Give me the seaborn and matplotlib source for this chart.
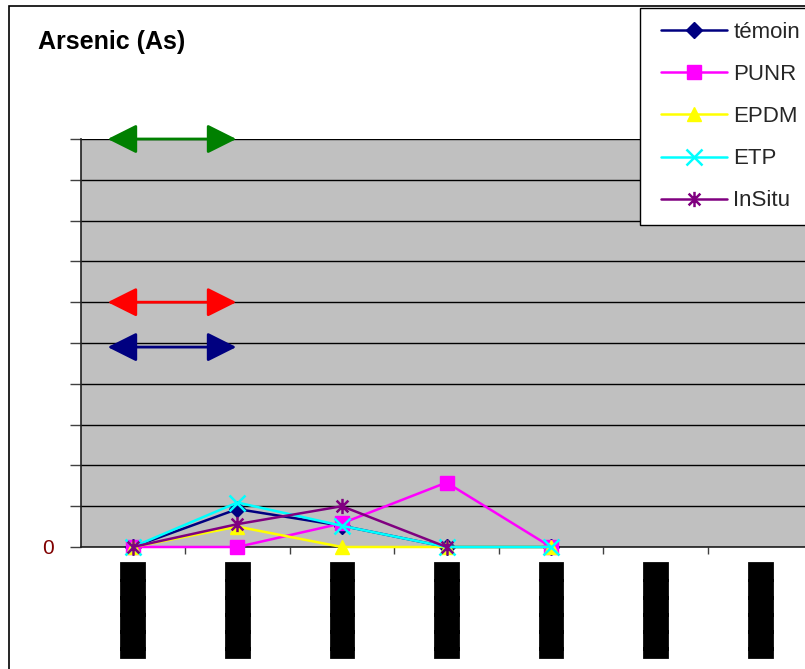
import matplotlib
matplotlib.use("Agg")
import matplotlib.pyplot as plt
import matplotlib.patches as mpatches
import matplotlib.patheffects as pe
from matplotlib.path import Path
import numpy as np
import pandas as pd
import seaborn as sns

# ---- data -------------------------------------------------------------
categories = ["▐" + "█" * 5] * 7    # sample labels (rotated)
series_names = ["témoin", "PUNR", "EPDM", "ETP", "InSitu"]
temoin = [0, 0.93, 0.52, 0, 0, np.nan, np.nan]
punr   = [0, 0, 0.58, 1.58, 0, np.nan, np.nan]
epdm   = [0, 0.50, 0, 0, 0, np.nan, np.nan]
etp    = [0, 1.09, 0.52, 0, 0, np.nan, np.nan]
insitu = [0, 0.56, 1.0, 0, np.nan, np.nan, np.nan]
values = [temoin, punr, epdm, etp, insitu]

# reference thresholds drawn as double arrows
limit_values = [10.0, 6.0, 4.9]
limit_colors = ["#008000", "#FF0000", "#000080"]
limit_span = (-0.24, 0.99)

y_ticks = list(range(0, 11))
y_ticklabels = ["0"] + [""] * 10

# ---- styling ----------------------------------------------------------
sns.set_theme(style="white")
plt.rcParams["font.family"] = ["Liberation Sans", "DejaVu Sans"]

colors = ["#000080", "#FF00FF", "#FFFF00", "#00FFFF", "#800080"]
star = Path([(-1, -1), (1, 1), (-1, 1), (1, -1), (0, -1.3), (0, 1.3)],
            [Path.MOVETO, Path.LINETO, Path.MOVETO, Path.LINETO,
             Path.MOVETO, Path.LINETO])
markers = ["D", "s", "^", "x", star]
msizes = [8.5, 10, 10.5, 11.5, 11]
medge = [1, 1, 1, 1.8, 1.8]

W, H = 805, 669
fig = plt.figure(figsize=(W / 100, H / 100), dpi=100)
fig.patch.set_facecolor("white")

left_px, right_px, top_px, bottom_px = 80.5, 812.5, 139, 547
ax = fig.add_axes([left_px / W, 1 - bottom_px / H,
                   (right_px - left_px) / W, (bottom_px - top_px) / H])
ax.set_facecolor("#C0C0C0")

x = np.arange(len(categories))
for name, vals, c, m, ms, me in zip(series_names, values, colors, markers,
                                    msizes, medge):
    df = pd.DataFrame({"x": x, "y": vals}).dropna()
    sns.lineplot(data=df, x="x", y="y", ax=ax, color=c, lw=1.8,
                 marker=m, markersize=ms, markeredgecolor=c,
                 markeredgewidth=me, markerfacecolor=c, label=name,
                 legend=False, clip_on=False, zorder=3)

# threshold arrows
for yv, c in zip(limit_values, limit_colors):
    ax.annotate("", xy=(limit_span[1], yv), xytext=(limit_span[0], yv),
                arrowprops=dict(arrowstyle="<|-|>,head_length=0.9,head_width=0.45",
                                color=c, lw=2, shrinkA=0, shrinkB=0,
                                mutation_scale=20),
                annotation_clip=False, zorder=4)

ax.set_xlim(-0.5, len(categories) - 0.5)
ax.set_ylim(0, 10)
ax.set_xlabel("")
ax.set_ylabel("")

ax.set_yticks(y_ticks)
ax.set_yticklabels(y_ticklabels)
ax.yaxis.grid(True, color="black", lw=1)
ax.xaxis.grid(False)
ax.tick_params(axis="y", which="major", direction="out", length=8, width=1,
               color="#404040", left=True, labelsize=15, labelcolor="#800000",
               pad=11)

ax.set_xticks(x)
ax.set_xticklabels(categories, rotation=90, fontsize=16, color="black",
                   family="DejaVu Sans", va="top", ha="center")
for t in ax.get_xticklabels():
    t.set_path_effects([pe.withStroke(linewidth=2, foreground="black",
                                      joinstyle="miter")])
ax.set_xticks(np.arange(0.5, len(categories) - 0.5, 1), minor=True)
ax.tick_params(axis="x", which="major", length=0, pad=11.5)
ax.tick_params(axis="x", which="minor", direction="out", length=5, width=1,
               color="#404040", bottom=True)

for s in ["top", "right"]:
    ax.spines[s].set_visible(False)
for s in ["left", "bottom"]:
    ax.spines[s].set_color("#202020")
    ax.spines[s].set_linewidth(1.2)

# title
fig.text(38 / W, 1 - 42 / H, "Arsenic (As)", fontsize=18, fontweight="bold",
         va="center", ha="left", color="black")

# legend box
fig.add_artist(mpatches.Rectangle((640 / W, 1 - 225 / H), 0.3, (225 - 8) / H,
                                  transform=fig.transFigure, facecolor="white",
                                  edgecolor="black", lw=1, zorder=5))
handles, labels = ax.get_legend_handles_labels()
leg = fig.legend(handles, labels, loc="upper left",
                 bbox_to_anchor=(661 / W, 1 - 22 / H),
                 prop={"family": ["Liberation Sans Narrow", "Liberation Sans"],
                       "size": 16},
                 frameon=False,
                 handlelength=2.95, handletextpad=0.3, labelspacing=0.95,
                 borderpad=0, borderaxespad=0)
leg.set_zorder(6)

# chart area border
fig.add_artist(mpatches.Rectangle((9 / W, -0.05), 1.2, 1 - 6 / H + 0.05,
                                  transform=fig.transFigure, fill=False,
                                  edgecolor="black", lw=1.2, zorder=0))

fig.savefig("out.png", dpi=100)
